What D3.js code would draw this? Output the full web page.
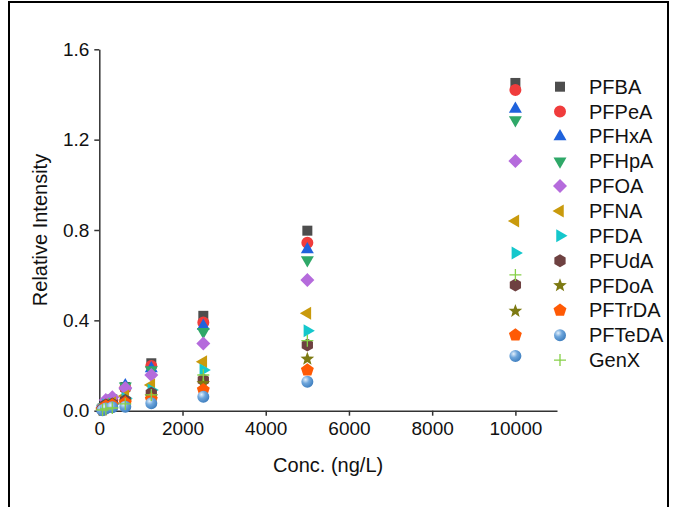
<!DOCTYPE html>
<html>
<head>
<meta charset="utf-8">
<script src="https://cdn.jsdelivr.net/npm/d3@7"></script>
<style>
    body { margin: 0; background: #fff; }
    svg { display: block; font-family: "Liberation Sans", Arial, sans-serif; }
</style>
</head>
<body>
<svg width="673" height="507"></svg>
<script>
// concentrations (ng/L) and relative intensity per compound
var concs = [78.125, 156.25, 312.5, 625, 1250, 2500, 5000, 10000];
var PFBA   = [0.010, 0.030, 0.050, 0.105, 0.210, 0.420, 0.797, 1.451];
var PFPeA  = [0.010, 0.030, 0.045, 0.100, 0.198, 0.390, 0.744, 1.420];
var PFHxA  = [0.010, 0.035, 0.050, 0.112, 0.187, 0.375, 0.714, 1.336];
var PFHpA  = [0.010, 0.030, 0.045, 0.108, 0.180, 0.350, 0.667, 1.287];
var PFOA   = [0.015, 0.047, 0.059, 0.100, 0.158, 0.298, 0.579, 1.105];
var PFNA   = [0.008, 0.030, 0.035, 0.065, 0.114, 0.217, 0.431, 0.840];
var PFDA   = [0.006, 0.025, 0.030, 0.055, 0.092, 0.180, 0.354, 0.698];
var PFUdA  = [0.005, 0.025, 0.030, 0.045, 0.077, 0.136, 0.291, 0.556];
var PFDoA  = [0.004, 0.020, 0.025, 0.040, 0.062, 0.121, 0.229, 0.441];
var PFTrDA = [0.004, 0.020, 0.025, 0.035, 0.050, 0.092, 0.180, 0.335];
var PFTeDA = [0.002, 0.010, 0.015, 0.018, 0.033, 0.062, 0.128, 0.242];
var GenX   = [0.003, 0.008, 0.012, 0.030, 0.070, 0.158, 0.310, 0.601];

var names = ['PFBA', 'PFPeA', 'PFHxA', 'PFHpA', 'PFOA', 'PFNA', 'PFDA',
    'PFUdA', 'PFDoA', 'PFTrDA', 'PFTeDA', 'GenX'];
var values = [PFBA, PFPeA, PFHxA, PFHpA, PFOA, PFNA, PFDA,
    PFUdA, PFDoA, PFTrDA, PFTeDA, GenX];
var xTicks = [0, 2000, 4000, 6000, 8000, 10000];
var yTicks = [0, 0.4, 0.8, 1.2, 1.6];

var colors = ['#4d4d4d', '#f03c3c', '#1f62dc', '#2fa868', '#b56bdc', '#c99a0c',
    '#14c7cc', '#6e4141', '#7d7a12', '#ff5a05', '#5b9bd5', '#86d048'];
var shapes = ['square', 'circle', 'up', 'down', 'diamond', 'left', 'right',
    'hexagon', 'star', 'pentagon', 'sphere', 'plus'];

var svg = d3.select('svg');

var x = d3.scaleLinear().domain([0, 11000]).range([99.3, 557]);
var y = d3.scaleLinear().domain([0, 1.6]).range([410.7, 49.3]);

// frame around the figure
svg.append('path')
    .attr('d', 'M9,507V2H668V507')
    .attr('fill', 'none')
    .attr('stroke', '#000')
    .attr('stroke-width', 2);

var defs = svg.append('defs');
var grad = defs.append('radialGradient')
    .attr('id', 'ball')
    .attr('cx', '0.35').attr('cy', '0.32').attr('r', '0.7');
grad.append('stop').attr('offset', '0').attr('stop-color', '#e4f0fb');
grad.append('stop').attr('offset', '0.45').attr('stop-color', '#6ea6dc');
grad.append('stop').attr('offset', '1').attr('stop-color', '#3f7fbf');

function polygon(n, r, rot) {
    var pts = d3.range(n).map(function (i) {
        var a = rot + i * 2 * Math.PI / n;
        return [r * Math.cos(a), r * Math.sin(a)];
    });
    return 'M' + pts.join('L') + 'Z';
}

function star(r) {
    var pts = d3.range(10).map(function (i) {
        var a = -Math.PI / 2 + i * Math.PI / 5;
        var rr = i % 2 ? r * 0.42 : r;
        return [rr * Math.cos(a), rr * Math.sin(a)];
    });
    return 'M' + pts.join('L') + 'Z';
}

function symbolPath(s) {
    switch (s) {
        case 'square': return 'M-5,-5H5V5H-5Z';
        case 'circle': return d3.symbol(d3.symbolCircle, 113)();
        case 'up': return polygon(3, 7.5, -Math.PI / 2);
        case 'down': return polygon(3, 7.5, Math.PI / 2);
        case 'left': return polygon(3, 7.5, Math.PI);
        case 'right': return polygon(3, 7.5, 0);
        case 'diamond': return 'M0,-7L7,0L0,7L-7,0Z';
        case 'hexagon': return polygon(6, 6.5, Math.PI / 2);
        case 'pentagon': return polygon(5, 6.8, -Math.PI / 2);
        case 'star': return star(7.2);
        case 'sphere': return d3.symbol(d3.symbolCircle, 113)();
        case 'plus': return 'M-6,0H6M0,-6V6';
    }
}

function drawMark(g, i) {
    var s = shapes[i];
    var p = g.append('path').attr('d', symbolPath(s));
    if (s == 'plus') {
        p.attr('fill', 'none').attr('stroke', colors[i]).attr('stroke-width', 1.3);
    } else if (s == 'sphere') {
        p.attr('fill', 'url(#ball)');
    } else {
        p.attr('fill', colors[i]);
    }
}

// axes
var xAxis = svg.append('g')
    .attr('transform', 'translate(0,' + y(0) + ')')
    .call(d3.axisBottom(x).tickValues(xTicks).tickFormat(d3.format('d'))
        .tickSize(5).tickSizeOuter(0).tickPadding(6));
var yAxis = svg.append('g')
    .attr('transform', 'translate(' + x(0) + ',0)')
    .call(d3.axisLeft(y).tickValues(yTicks).tickFormat(d3.format('.1f'))
        .tickSize(5).tickSizeOuter(0).tickPadding(5));

[xAxis, yAxis].forEach(function (a) {
    a.selectAll('path, line').attr('stroke', '#333').attr('stroke-width', 1.5);
    a.selectAll('text').attr('fill', '#111').style('font-size', '19px')
        .style('font-family', '"Liberation Sans", Arial, sans-serif');
});

svg.append('text')
    .attr('x', (x.range()[0] + x.range()[1]) / 2)
    .attr('y', 472)
    .attr('text-anchor', 'middle')
    .style('font-size', '20px')
    .attr('fill', '#111')
    .text('Conc. (ng/L)');

svg.append('text')
    .attr('transform', 'translate(47,' + (y.range()[0] + y.range()[1]) / 2 + ') rotate(-90)')
    .attr('text-anchor', 'middle')
    .style('font-size', '20px')
    .attr('fill', '#111')
    .text('Relative Intensity');

// data points
var plot = svg.append('g');
values.forEach(function (vals, i) {
    vals.forEach(function (v, j) {
        var g = plot.append('g')
            .attr('transform', 'translate(' + x(concs[j]) + ',' + y(v) + ')');
        drawMark(g, i);
    });
});

// legend
var legend = svg.append('g');
names.forEach(function (n, i) {
    var row = legend.append('g')
        .attr('transform', 'translate(560,' + (86.7 + i * 24.85) + ')');
    drawMark(row, i);
    row.append('text')
        .attr('x', 29)
        .attr('dy', '0.35em')
        .style('font-size', '20px')
        .attr('fill', '#111')
        .text(n);
});
</script>
</body>
</html>
